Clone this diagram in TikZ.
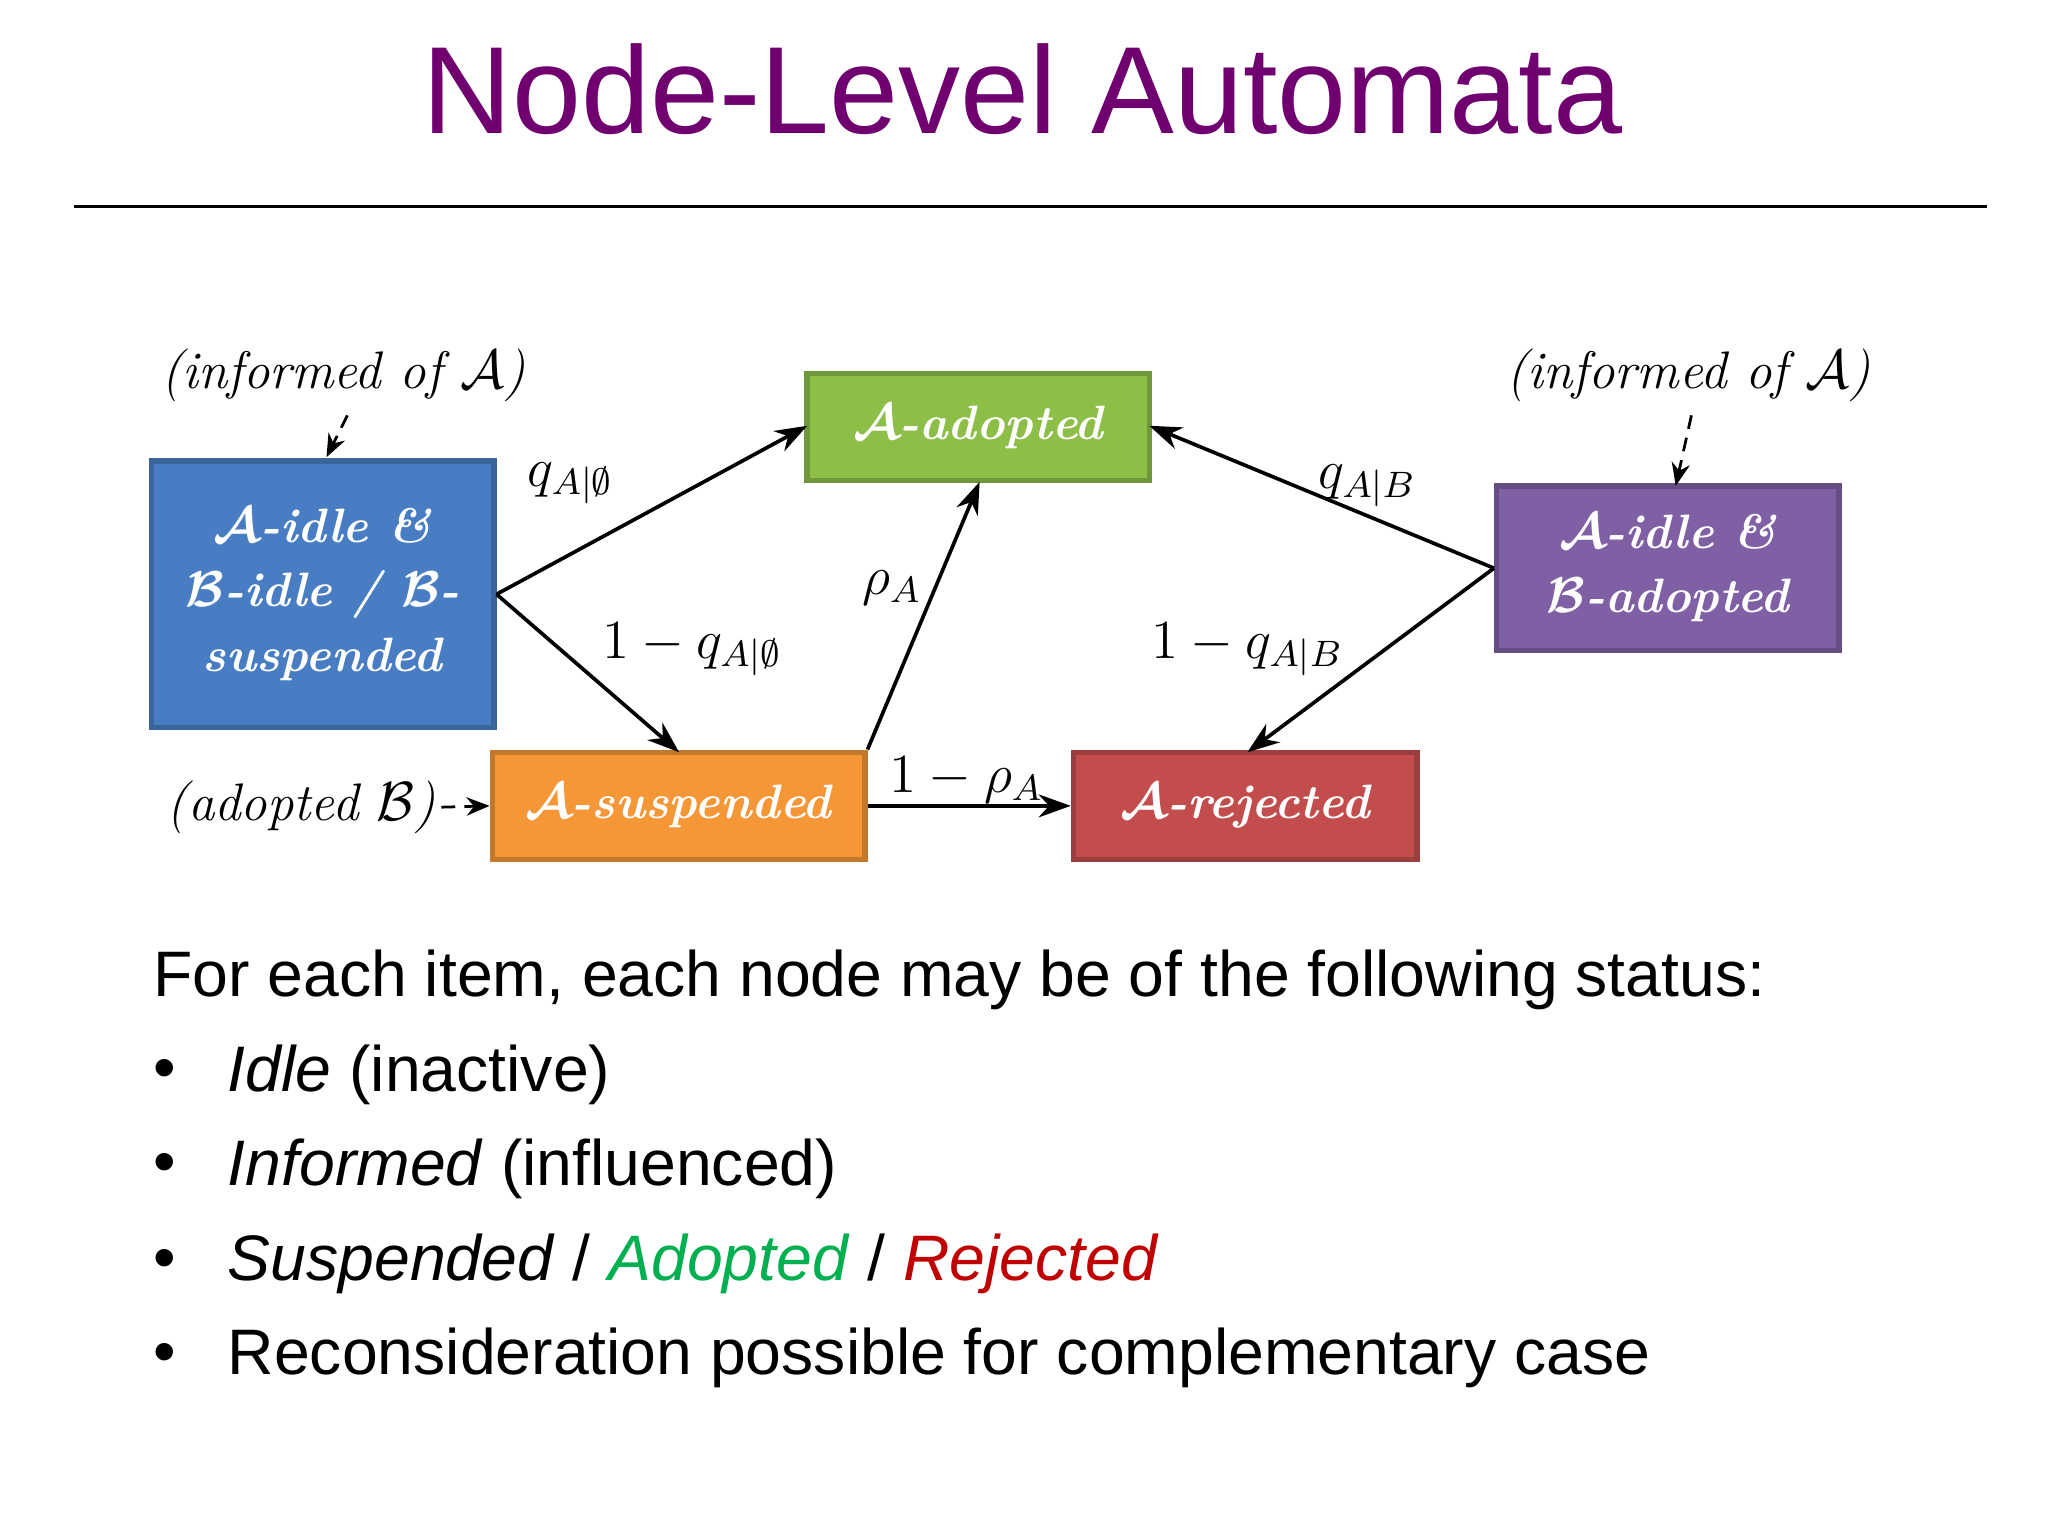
\documentclass[tikz,border=0pt]{standalone}
\usepackage{amsmath,amssymb,bm}
\usepackage{fontspec}
\newfontfamily\slidesans{Liberation Sans}
\usetikzlibrary{arrows.meta}
\definecolor{ttl}{RGB}{112,0,112}
\definecolor{cblue}{RGB}{72,125,195}
\definecolor{cgreen}{RGB}{140,190,72}
\definecolor{cpurp}{RGB}{128,96,165}
\definecolor{corange}{RGB}{245,150,55}
\definecolor{cred}{RGB}{195,77,77}
\definecolor{adg}{RGB}{0,176,80}
\definecolor{rjr}{RGB}{192,0,0}
\begin{document}
\begin{tikzpicture}[x=0.01cm,y=-0.01cm,
  st/.style={draw=#1!80!black,fill=#1,line width=1.2pt,text=white,font=\fontsize{10.5}{14}\selectfont\bfseries\itshape,align=center,inner sep=0pt},
  ed/.style={-{Stealth[length=7pt,width=5pt]},line width=0.8pt},
  dd/.style={-{Stealth[length=5pt,width=4pt]},densely dashed,line width=0.6pt},
  lb/.style={font=\fontsize{11.5}{14}\selectfont},
  note/.style={font=\fontsize{11.5}{14}\selectfont\itshape},
  bl/.style={anchor=west,font=\slidesans\fontsize{14}{17}\selectfont}]
\useasboundingbox (0,0) rectangle (1568,1176);
\fill[white] (0,0) rectangle (1568,1176);
\node[text=ttl,font=\slidesans\fontsize{27}{32}\selectfont] (title) at (783,68) {Node-Level Automata};
\draw[line width=0.8pt] (57,158) -- (1521,158);
% states
\node[st=cblue,minimum width=2.62cm,minimum height=2.04cm] (blue) at (247,455) {$\bm{\mathcal{A}}$-idle \&\\$\bm{\mathcal{B}}$-idle / $\bm{\mathcal{B}}$-\\suspended};
\node[st=cgreen,minimum width=2.62cm,minimum height=0.82cm] (green) at (749,327) {$\bm{\mathcal{A}}$-adopted};
\node[st=cpurp,minimum width=2.62cm,minimum height=1.26cm] (purple) at (1277,435) {$\bm{\mathcal{A}}$-idle \&\\$\bm{\mathcal{B}}$-adopted};
\node[st=corange,minimum width=2.85cm,minimum height=0.82cm] (orange) at (519.5,617) {$\bm{\mathcal{A}}$-suspended};
\node[st=cred,minimum width=2.63cm,minimum height=0.82cm] (red) at (953.5,617) {$\bm{\mathcal{A}}$-rejected};
% edges
\draw[ed] (blue.east) -- (618,326);
\draw[ed] (blue.east) -- (520,576);
\draw[ed] (orange.north east) -- (750,369);
\draw[ed] (purple.west) -- (880,326);
\draw[ed] (purple.west) -- (955,576);
\draw[ed] (orange.east) -- (red.west);
\node[lb] (l1) at (437,370) {$q_{A|\emptyset}$};
\node[lb] (l2) at (530,497) {$1-q_{A|\emptyset}$};
\node[lb] (l3) at (683,450) {$\rho_A$};
\node[lb] (l4) at (1047,372) {$q_{A|B}$};
\node[lb] (l5) at (955,497) {$1-q_{A|B}$};
\node[lb] (l6) at (740,597) {$1-\rho_A$};
% notes
\node[note] (n1) at (263,287) {(informed of $\mathcal{A}$)};
\node[note] (n2) at (1293,287) {(informed of $\mathcal{A}$)};
\node[note,anchor=east,inner sep=1pt] (n3) at (338,618) {(adopted $\mathcal{B}$)};
\coordinate (a1) at (250,350);
\coordinate (a2) at (1283,372);
\draw[dd] (266,318) -- (a1);
\draw[dd] (1295,318) -- (a2);
\draw[dd] (n3.east) -- (orange.west);
% bullets
\node[bl] (t0) at (105,750) {For each item, each node may be of the following status:};
\node[bl] (b1) at (105,823) {\textbullet};
\node[bl] (t1) at (162,823) {\textit{Idle} (inactive)};
\node[bl] (b2) at (105,895) {\textbullet};
\node[bl] (t2) at (162,895) {\textit{Informed} (influenced)};
\node[bl] (b3) at (105,968) {\textbullet};
\node[bl] (t3) at (162,968) {\textit{Suspended} / \textcolor{adg}{\textit{Adopted}} / \textcolor{rjr}{\textit{Rejected}}};
\node[bl] (b4) at (105,1040) {\textbullet};
\node[bl] (t4) at (162,1040) {Reconsideration possible for complementary case};
\end{tikzpicture}
\end{document}
